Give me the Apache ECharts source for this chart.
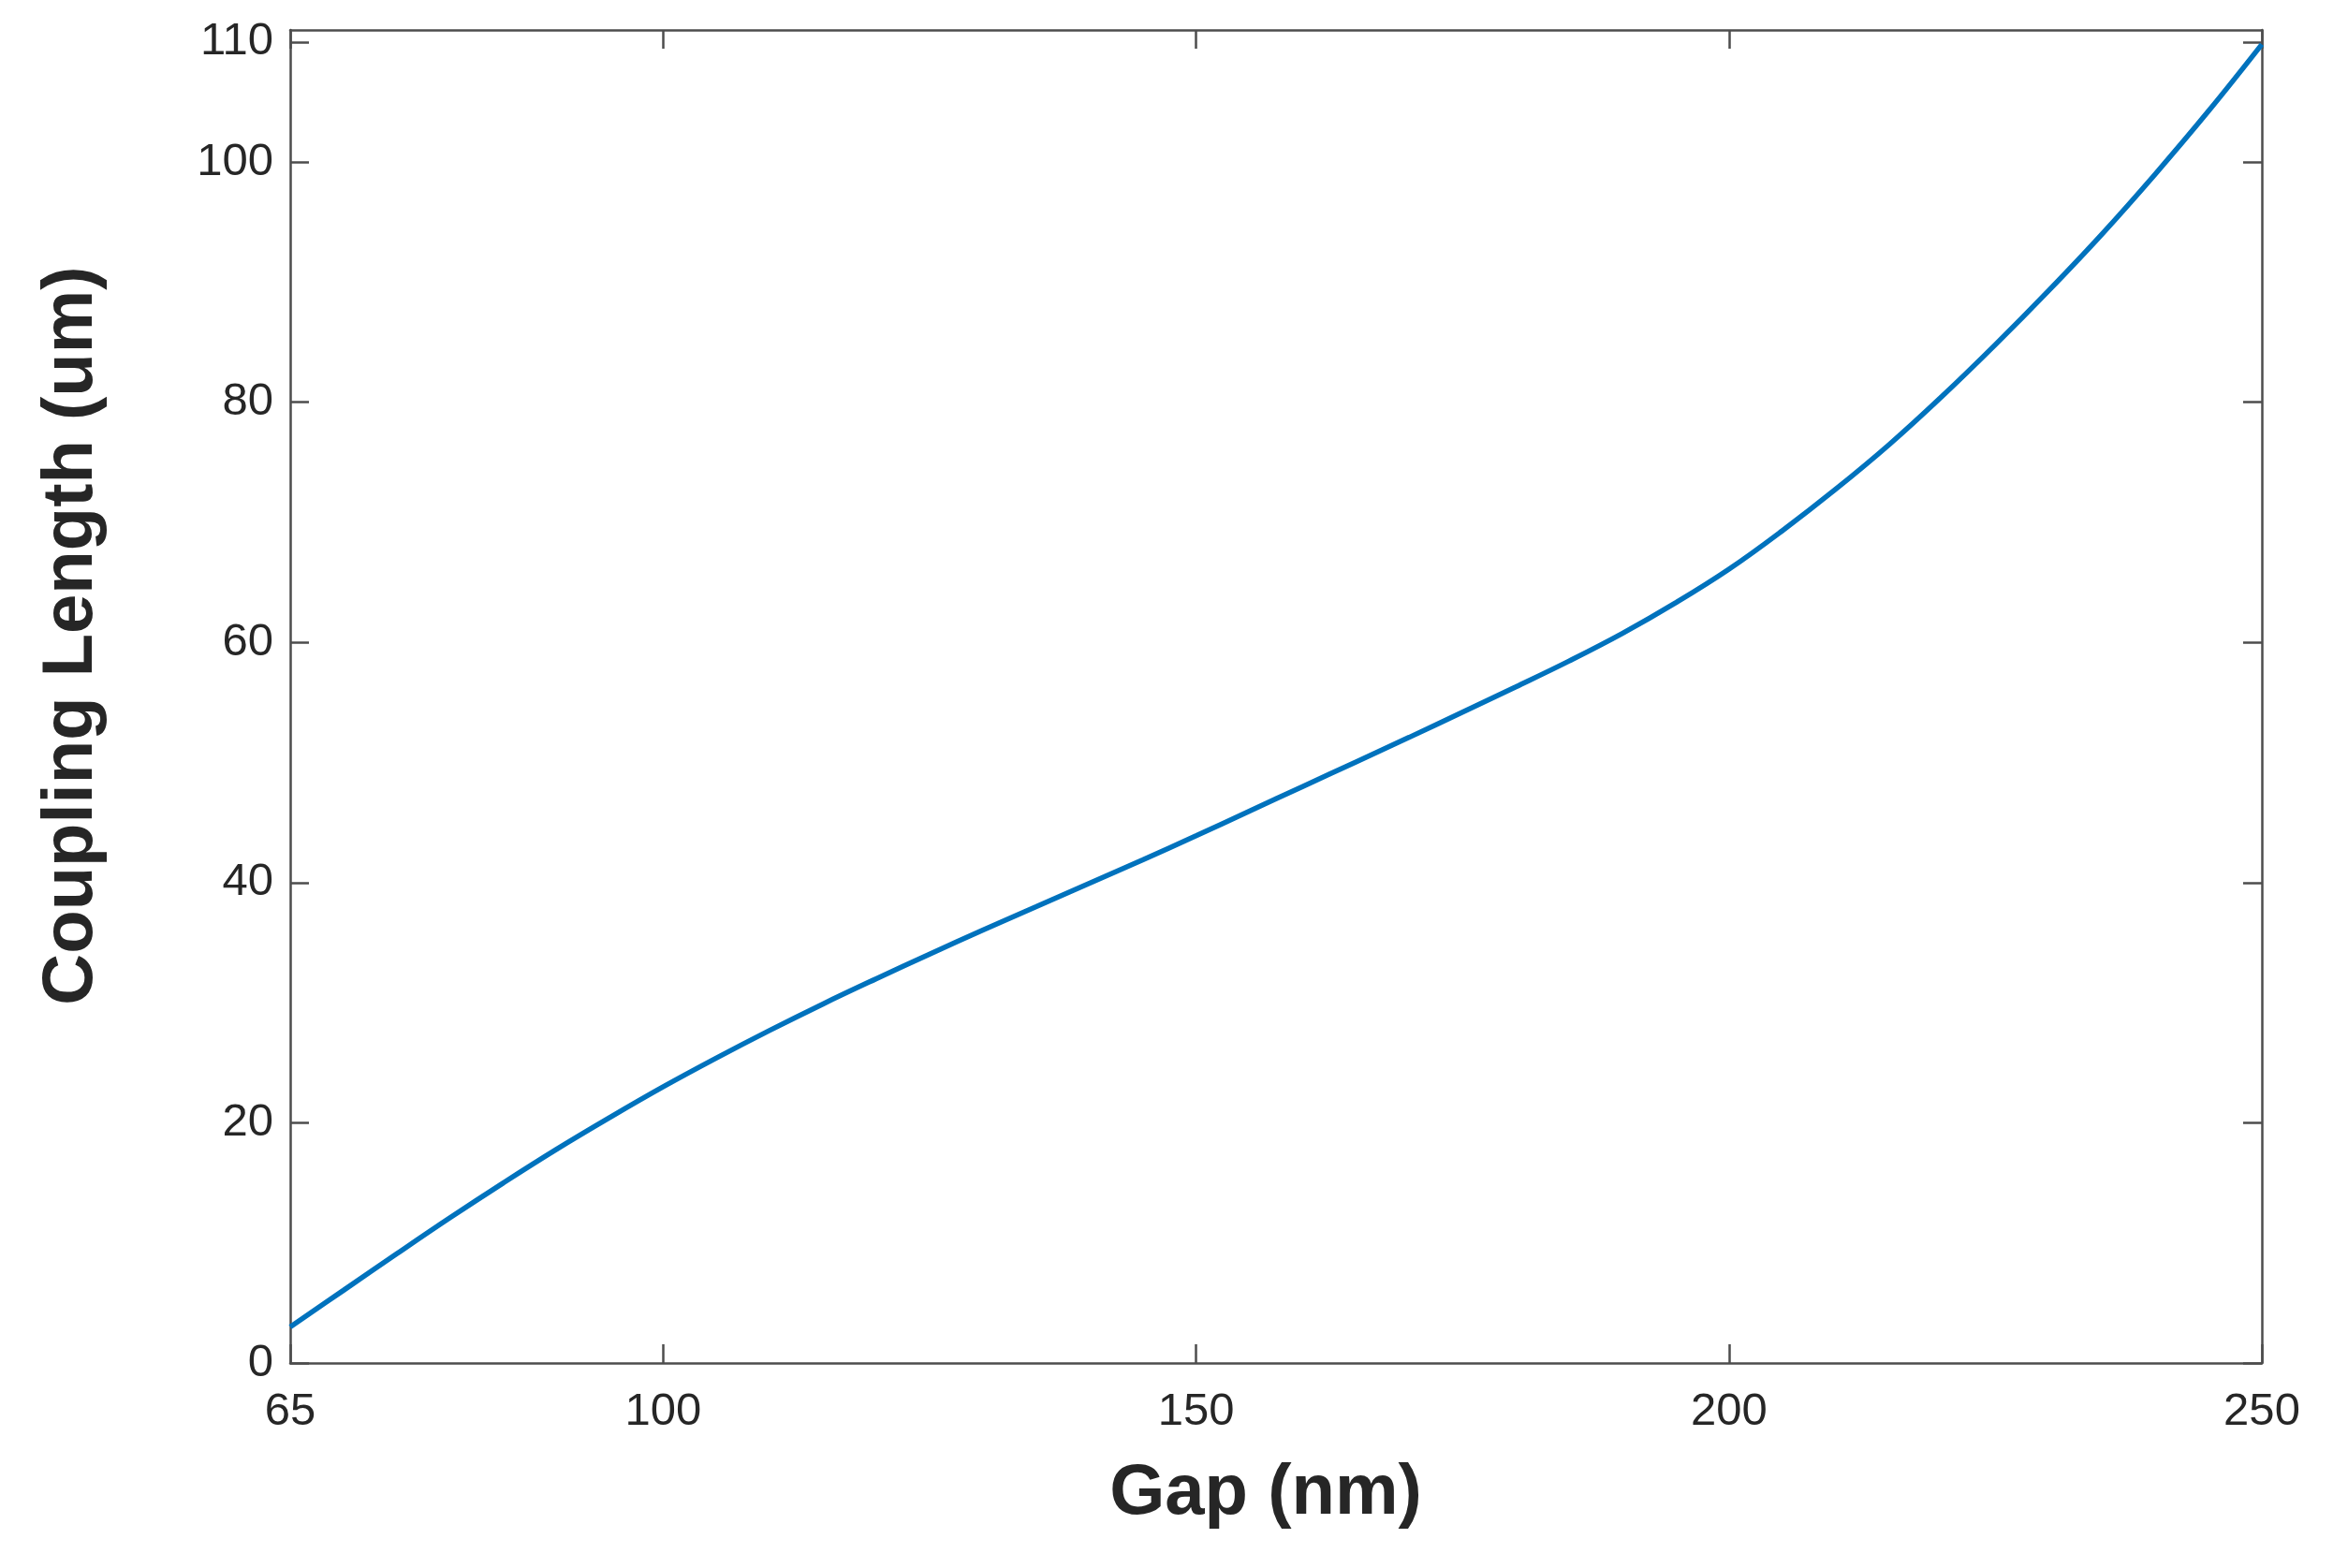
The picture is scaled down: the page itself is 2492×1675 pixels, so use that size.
<!DOCTYPE html>
<html>
<head>
<meta charset="utf-8">
<script src="https://cdn.jsdelivr.net/npm/echarts@6/dist/echarts.min.js"></script>
<style>
  html, body { margin: 0; padding: 0; background: #fff; }
  #chart { width: 2492px; height: 1675px; }
</style>
</head>
<body>
<div id="chart"></div>
<script>
// 数据：Gap / Coupling Length 值
var gapNm = [65, 70, 75, 80, 85, 90, 95, 100, 105, 110, 115, 120, 125, 130, 135, 140, 145, 150,
    155, 160, 165, 170, 175, 180, 185, 190, 195, 200, 205, 210, 215, 220, 225, 230, 235, 240, 245, 250];
var couplingLengthUm = [3.0, 6.05, 9.1, 12.1, 15.0, 17.8, 20.45, 23.0, 25.4, 27.7, 29.9, 32.0, 34.05, 36.05, 38.0, 39.95, 41.9, 43.9,
    45.95, 48.0, 50.05, 52.1, 54.2, 56.3, 58.45, 60.75, 63.3, 66.1, 69.3, 72.75, 76.45, 80.5, 84.8, 89.3, 94.0, 99.0, 104.25, 109.8];
var xTicks = [65, 100, 150, 200, 250];
var yTicks = [0, 20, 40, 60, 80, 100, 110];

var chart = echarts.init(document.getElementById('chart'));

var axisColor = '#262626';
var boxColor = '#4d4d4d';
var labelFont = 'Liberation Sans, Arial, Helvetica, sans-serif';

//坐标轴公共样式
function makeAxis(type, position, ticks, showLabel, min, max){
    return {
        type: 'value',
        position: position,
        min: min,
        max: max,
        splitLine: {show: false},
        axisLine: {show: true, onZero: false, lineStyle: {color: boxColor, width: 2.5}},
        axisTick: {show: true, inside: true, length: 20, customValues: ticks, lineStyle: {color: boxColor, width: 2.5}},
        axisLabel: {
            show: showLabel,
            customValues: ticks,
            margin: type === 'x' ? 28 : 18,
            padding: type === 'x' ? 0 : [20, 0, 0, 0],
            color: axisColor,
            fontFamily: labelFont,
            fontSize: 49
        }
    };
}

var xBottom = makeAxis('x', 'bottom', xTicks, true, 65, 250);
xBottom.name = 'Gap (nm)';
xBottom.nameLocation = 'middle';
xBottom.nameGap = 102;
xBottom.nameTextStyle = {color: axisColor, fontFamily: labelFont, fontSize: 76, fontWeight: 'bold', padding: [0, 22, 0, 0]};

var option = {
    backgroundColor: '#ffffff',
    animation: false,
    grid: {left: 310, right: 76, top: 32, bottom: 219, containLabel: false},
    xAxis: [xBottom, makeAxis('x', 'top', xTicks, false, 65, 250)],
    yAxis: [makeAxis('y', 'left', yTicks, true, 0, 111), makeAxis('y', 'right', yTicks, false, 0, 111)],
    graphic: [{
        type: 'text',
        x: 77,
        y: 679,
        rotation: Math.PI / 2,
        style: {
            text: 'Coupling Length (um)',
            fill: axisColor,
            font: 'bold 76px ' + labelFont,
            align: 'center',
            verticalAlign: 'middle'
        }
    }],
    series: [{
        type: 'line',
        xAxisIndex: 0,
        yAxisIndex: 0,
        data: gapNm.map(function (g, i) { return [g, couplingLengthUm[i]]; }),
        showSymbol: false,
        smooth: 0.4,
        lineStyle: {color: '#0072BD', width: 5.5},
        clip: true
    }]
};
chart.setOption(option);
</script>
</body>
</html>
